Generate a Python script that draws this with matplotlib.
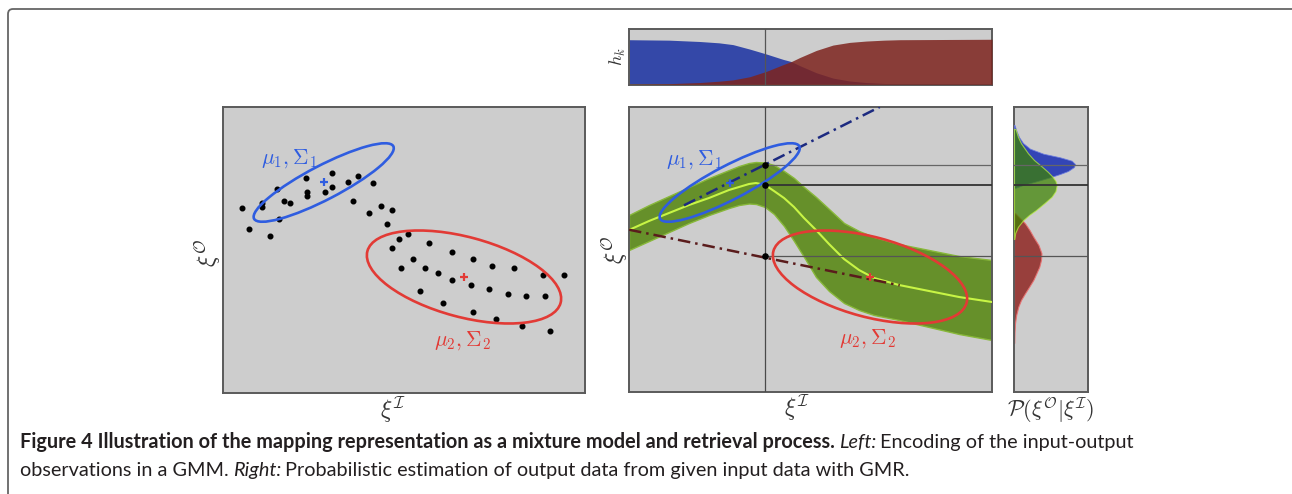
import matplotlib
matplotlib.use('Agg')
import matplotlib.pyplot as plt
import matplotlib.transforms as mtransforms
from matplotlib.patches import Ellipse
from matplotlib.path import Path
from matplotlib.patches import PathPatch
import numpy as np

plt.rcParams['mathtext.fontset'] = 'cm'

# scatter observations (panel pixel coords, y down)
obs_x = [19, 25.7, 39.3, 39.3, 46.7, 53.7, 56, 60.7, 67.3, 83.3, 83.7, 83.7, 102.3, 109.3,
         109, 125.3, 134.7, 130, 150, 146, 157.7, 169, 164.3, 185, 175.7, 169, 206, 190,
         177.7, 201.7, 215.3, 229, 229, 247.7, 249.7, 197, 220, 249.7, 266.3, 268.7, 273.3,
         284.7, 291.3, 303.3, 299, 319.7, 321.7, 326.7, 340.7]
obs_y = [100.7, 122, 96, 100, 128.7, 82, 112.3, 93.7, 96.3, 71, 84.7, 89, 84.7, 66.3,
         80, 75.3, 68.7, 94, 75.7, 105.7, 98.7, 103.3, 117.3, 126.7, 131.7, 140.7, 136, 152,
         161.3, 161.3, 166, 145, 172.7, 177.7, 152, 184.3, 196, 205, 182.3, 159, 212,
         186.7, 161.3, 189, 219, 168.3, 189, 223.7, 168.3]

# gaussian components: centre, semi axes, angle
mu1 = (100.7, 75.5)
sig1 = (78.5, 17, -27.5)
mu2 = (241, 170)
sig2 = (100, 40, 15)

# GMR curve and band
gmr_x = [0, 20, 40, 60, 80, 100, 110, 120, 127, 136, 145, 155, 165, 175, 187, 200, 215, 230, 245, 270, 300, 330, 363]
gmr_mean = [123, 114, 106, 98, 91, 83, 80, 77, 76, 78, 84, 91, 100, 111, 123, 137, 152, 163, 171, 178, 184, 190, 195]
gmr_up = [108, 98, 89, 80, 71, 63, 59, 56, 55, 55.5, 58, 64, 71, 80, 90, 102, 116, 124, 130, 137, 143, 149, 153]
gmr_lo = [143, 134, 125, 116, 108, 101, 98, 96.5, 97, 100, 107, 119, 134, 150, 170, 184, 196, 203, 208, 213, 220, 227, 233]

# activation weights h_k
hk_x = [0, 40, 70.7, 90, 104, 120.7, 137.3, 154, 162.3, 170.7, 187.3, 204, 220.7, 237.3, 255, 270.7, 363]
h1 = [1.0, 0.99, 0.96, 0.93, 0.89, 0.79, 0.68, 0.56, 0.51, 0.42, 0.26, 0.14, 0.075, 0.04, 0.02, 0.01, 0.0]
h2 = [0.005, 0.015, 0.04, 0.07, 0.10, 0.17, 0.29, 0.44, 0.51, 0.60, 0.76, 0.88, 0.94, 0.97, 0.99, 1.0, 1.01]

x_in = 136.3
y_out = [57.7, 78.3, 149.3]

# conditional densities (right panel): y position, width
p1_y = [18, 24, 30, 36, 41.7, 46.7, 50.3, 53.7, 57, 60, 64, 67, 70.3, 74.7, 78, 81]
p1_w = [0.5, 2.5, 5, 9, 16, 29.3, 46, 57.7, 61, 60, 54, 46, 36, 21, 9, 1]
pg_y = [22, 30, 36.3, 46.3, 53, 59.7, 65, 69.7, 74, 78, 84, 89.7, 96, 103, 108, 113, 119.7, 126, 132]
pg_w = [1.5, 4, 7, 14, 20, 28, 34, 38.5, 41.5, 42.7, 41.5, 37.7, 30.5, 22, 15, 9.3, 4, 1.2, 0.3]
p2_y = [106, 110, 116.3, 123, 129.7, 138, 146.3, 153, 159.7, 166, 173, 180, 186.3, 193, 199.7, 208, 216.3, 225, 236]
p2_w = [1, 5, 11, 15.5, 19.3, 24.5, 27.5, 27, 25.3, 22.5, 19.3, 15, 11, 7, 4.3, 2.2, 1, 0.5, 0.2]

W, H = 1292, 494
fig = plt.figure(figsize=(W / 100, H / 100), dpi=100)
BG = '#cdcdcd'
EDGE = '#5a5a5a'


def ax_px(x0, y0, x1, y1):
    return fig.add_axes([x0 / W, 1 - y1 / H, (x1 - x0) / W, (y1 - y0) / H])


def style(ax, w, h):
    ax.set_facecolor(BG)
    ax.set_xlim(0, w)
    ax.set_ylim(h, 0)
    ax.set_xticks([])
    ax.set_yticks([])
    for s in ax.spines.values():
        s.set_color(EDGE)
        s.set_linewidth(1.4)


def ellipses(ax):
    ax.add_patch(Ellipse(mu1, 2 * sig1[0], 2 * sig1[1], angle=sig1[2], fill=False,
                         ec='#2f5de0', lw=1.9, zorder=5))
    ax.add_patch(Ellipse(mu2, 2 * sig2[0], 2 * sig2[1], angle=sig2[2], fill=False,
                         ec='#e23a35', lw=1.9, zorder=5))
    ax.plot(*mu1, marker='+', color='#2f5de0', ms=6, mew=1.6, zorder=6)
    ax.plot(*mu2, marker='+', color='#e23a35', ms=6, mew=1.6, zorder=6)


# left panel
axl = ax_px(223, 107, 585, 393)
style(axl, 362, 286)
axl.scatter(obs_x, obs_y, s=11, c='black', zorder=4)
ellipses(axl)
axl.text(65.7, 52, r'$\mu_1, \Sigma_1$', color='#2f5de0', fontsize=15.5, ha='center', va='center')
axl.text(239, 234, r'$\mu_2, \Sigma_2$', color='#e23a35', fontsize=15.5, ha='center', va='center')

# middle panel
axm = ax_px(629, 107, 992, 392)
style(axm, 363, 285)
axm.fill_between(gmr_x, gmr_up, gmr_lo, color='#66902a', ec='#88b83a', lw=1.0, zorder=2)
axm.plot(gmr_x, gmr_mean, color='#c8f545', lw=1.5, zorder=3)
axm.axvline(x_in, color='#4a4a4a', lw=0.9, zorder=3.5)
for yy, lw, c in zip(y_out, [0.9, 1.3, 0.9], ['#666666', '#333333', '#555555']):
    axm.plot([x_in, 363], [yy, yy], color=c, lw=lw, zorder=3.5)
bx = [55, 250.7]
axm.plot(bx, [mu1[1] - 0.5 * (bx[0] - mu1[0]), 0], color='#1c2a80', lw=1.8,
         ls=(0, (5, 2, 1, 2)), zorder=4)
axm.plot([0, 270.7], [122.7, 178.3], color='#5a1c1c', lw=1.8,
         ls=(0, (5, 2, 1, 2)), zorder=4)
axm.scatter([x_in] * 3, y_out, s=14, c='black', zorder=7)
ellipses(axm)
axm.text(64.7, 52.7, r'$\mu_1, \Sigma_1$', color='#2f5de0', fontsize=15.5, ha='center', va='center')
axm.text(238, 231.7, r'$\mu_2, \Sigma_2$', color='#e23a35', fontsize=15.5, ha='center', va='center')

# h_k panel
axh = ax_px(629, 29, 992, 85)
axh.set_facecolor(BG)
axh.fill_between(hk_x, 0, h1, color='#1931a2', alpha=0.85, lw=0, zorder=2)
axh.fill_between(hk_x, 0, h2, color='#7e241e', alpha=0.85, lw=0, zorder=3)
axh.axvline(x_in, color='#555555', lw=0.9, zorder=4)
axh.set_xlim(0, 363)
axh.set_ylim(-0.015, 1.24)
axh.set_xticks([])
axh.set_yticks([])
for s in axh.spines.values():
    s.set_color(EDGE)
    s.set_linewidth(1.4)

# right panel
axr = ax_px(1014, 107, 1088, 392)
style(axr, 74, 285)
axr.fill_betweenx(p2_y, 0, p2_w, color='#93302c', alpha=0.9, ec='#e87070', lw=0.8, zorder=2)
axr.fill_betweenx(p1_y, 0, p1_w, color='#2236b4', alpha=0.9, ec='#6a7ae0', lw=0.6, zorder=3)
axr.fill_betweenx(pg_y, 0, pg_w, color='#3c8200', alpha=0.72, ec='#b8ee40', lw=0.8, zorder=4)
for yy, lw, c in zip(y_out, [0.9, 1.3, 0.9], ['#666666', '#333333', '#555555']):
    axr.axhline(yy, color=c, lw=lw, zorder=5)


# axis labels
def ftext(px, py, s, **kw):
    fig.text(px / W, 1 - py / H, s, ha='center', va='center', **kw)


ftext(393, 410, r'$\xi^\mathcal{I}$', fontsize=17, color='#333333')
ftext(208, 253, r'$\xi^\mathcal{O}$', fontsize=17, rotation=90, color='#333333')
ftext(797, 408, r'$\xi^\mathcal{I}$', fontsize=17, color='#333333')
ftext(615, 250, r'$\xi^\mathcal{O}$', fontsize=17, rotation=90, color='#333333')
ftext(618, 57, r'$h_k$', fontsize=13, rotation=90, color='#333333')
ftext(1051, 410, r'$\mathcal{P}(\xi^\mathcal{O}|\xi^\mathcal{I})$', fontsize=16, color='#333333')

# frame: top and left edges with rounded corner
r = 5
frame = Path([(1292, H - 9), (8 + r, H - 9), (8, H - 9), (8, H - 9 - r), (8, 0)],
             [Path.MOVETO, Path.LINETO, Path.CURVE3, Path.CURVE3, Path.LINETO])
fig.patches.append(PathPatch(frame, fill=False, ec='#666666', lw=1.3,
                             transform=mtransforms.IdentityTransform()))

# caption
fam = ['Lato', 'DejaVu Sans']
renderer = fig.canvas.get_renderer()
GAP = 4


def put_line(x, y, pieces):
    for txt, kw in pieces:
        t = fig.text(x, y, txt, transform=mtransforms.IdentityTransform(), va='baseline',
                     fontsize=14.3, family=fam, color='#231f20', **kw)
        x += t.get_window_extent(renderer).width + GAP


put_line(20, H - 448, [
    ('Figure 4 Illustration of the mapping representation as a mixture model and retrieval process.',
     dict(weight='bold')),
    ('Left:', dict(style='italic')),
    ('Encoding of the input-output', {})])
put_line(20, H - 476, [
    ('observations in a GMM.', {}), ('Right:', dict(style='italic')),
    ('Probabilistic estimation of output data from given input data with GMR.', {})])

fig.savefig('out.png', dpi=100)
